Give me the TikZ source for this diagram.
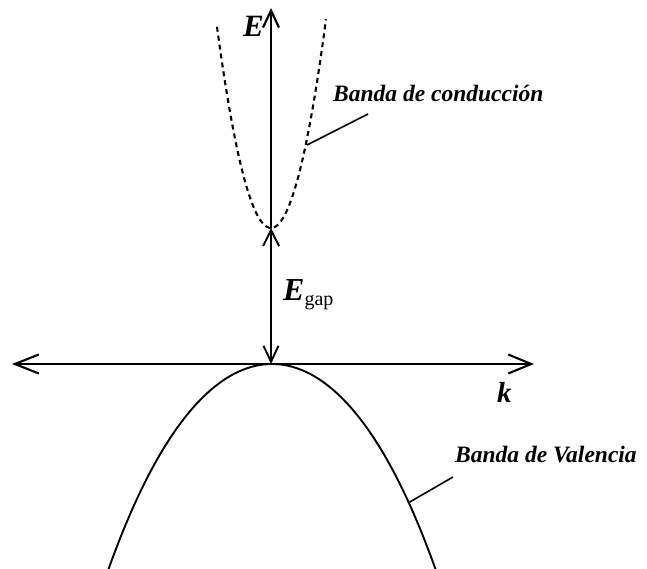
\documentclass[tikz,border=0pt]{standalone}
\usepackage{fontspec}
\setmainfont{Liberation Serif}
\usetikzlibrary{arrows.meta}
\tikzset{
  axisline/.style={line width=2.1pt, line cap=round},
  smalltip/.style={{Straight Barb[length=16pt,width=16pt,line width=1.9pt]}-{Straight Barb[length=16pt,width=15pt,line width=1.9pt]}},
  bandlabel/.style={inner sep=0pt, font=\fontsize{23.5}{28}\selectfont\bfseries\itshape},
  leader/.style={line width=1.6pt},
  band/.style={line width=1.9pt},
}
\begin{document}
\begin{tikzpicture}[x=1pt,y=-1pt]
\useasboundingbox (0,0) rectangle (647,569);
% key points
\coordinate (top) at (271,8);
\coordinate (cmin) at (271,228);
\coordinate (vmax) at (271,364);
\coordinate (left) at (12,364);
\coordinate (right) at (534,364);
\coordinate (cpt) at (307,145);
\coordinate (vpt) at (408,503);
% conduction band (dashed)
\draw[band, line width=2.1pt, dash pattern=on 5pt off 4pt] plot[domain=-54:55, samples=80] ({271+\x},{228-0.069*\x*\x});
% valence band
\draw[band] plot[domain=-1.65:1.64, samples=120] ({272+100*\x},{364+68*\x*\x+3.27*(\x*\x)*(\x*\x)});
% axes
\draw[axisline, {Straight Barb[length=24pt,width=19pt,line width=2.1pt]}-{Straight Barb[length=23pt,width=19pt,line width=2.1pt]}] (left) -- (right);
\draw[axisline, line width=2.4pt, -{Straight Barb[length=17pt,width=16pt,line width=2.2pt]}] (cmin) -- (top);
\draw[axisline, smalltip] (cmin) -- (vmax);
% labels
\node[inner sep=0pt, anchor=base east, font=\fontsize{31}{34}\selectfont\bfseries\itshape] (E) at (264,37) {E};
\node[inner sep=0pt, anchor=base west, font=\fontsize{29}{34}\selectfont\bfseries\itshape] (k) at (497,402) {k};
\node[inner sep=0pt, anchor=base west] (Egap) at (283,300) {\fontsize{32}{34}\selectfont\bfseries\itshape E\raisebox{-5pt}{\fontsize{20}{22}\selectfont\mdseries\upshape gap}};
\node[bandlabel, anchor=base west] (cb) at (333,102) {Banda de conducción};
\node[bandlabel, anchor=base west] (vb) at (455,462) {Banda de Valencia};
\coordinate (cend) at (368,114);
\coordinate (vend) at (453,477);
\draw[leader] (cpt) -- (cend);
\draw[leader] (vpt) -- (vend);
\end{tikzpicture}
\end{document}
